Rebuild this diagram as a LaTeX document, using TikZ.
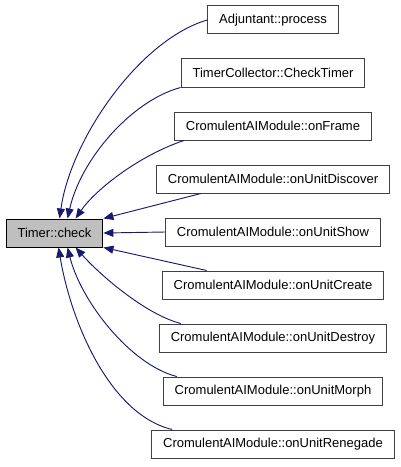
\documentclass[tikz,border=0pt]{standalone}
\usepackage{fontspec}
\setmainfont{Liberation Sans}
\usetikzlibrary{arrows.meta,positioning,calc}
\definecolor{edgeblue}{HTML}{191970}
\definecolor{boxgray}{HTML}{BFBFBF}

\begin{document}
\begin{tikzpicture}[x=0.75pt,y=-0.75pt,font=\fontsize{9.75}{11}\selectfont,
  >={Triangle[length=7.5pt,width=6pt]},node distance=18pt,
  fn/.style={draw=black!75,line width=0.75pt,rectangle,inner xsep=8.6pt,inner ysep=0pt,minimum height=21pt},
  current/.style={fn,draw=black,fill=boxgray},
  call/.style={->,draw=edgeblue,line width=0.7pt}]
\useasboundingbox (0,0) rectangle (400,467);
% callers, one column
\node[fn] (adjProcess) at (273,20) {Adjuntant::process};
\node[fn,below=of adjProcess] (checkTimer) {TimerCollector::CheckTimer};
\node[fn,below=of checkTimer] (onFrame) {CromulentAIModule::onFrame};
\node[fn,below=of onFrame] (onDiscover) {CromulentAIModule::onUnitDiscover};
\node[fn,below=of onDiscover] (onShow) {CromulentAIModule::onUnitShow};
\node[fn,below=of onShow] (onCreate) {CromulentAIModule::onUnitCreate};
\node[fn,below=of onCreate] (onDestroy) {CromulentAIModule::onUnitDestroy};
\node[fn,below=of onDestroy] (onMorph) {CromulentAIModule::onUnitMorph};
\node[fn,below=of onMorph] (onRenegade) {CromulentAIModule::onUnitRenegade};
% callee
\node[current] (timerCheck) at (54.5,233) {Timer::check};

\draw[call] (adjProcess.west) .. controls +(-68,20) and +(11,-79) .. ($(timerCheck.north west)+(54,0)$);
\draw[call] (checkTimer.south west) .. controls +(-49,13) and +(13,-59) .. ($(timerCheck.north west)+(62,0)$);
\draw[call] ($(onFrame.south west)+(10,0)$) .. controls +(-45,15) and +(20,-29) .. ($(timerCheck.north west)+(70,0)$);
\draw[call] ($(onDiscover.south west)+(45,0)$) -- (timerCheck.north east);
\draw[call] (onShow.west) -- (timerCheck.east);
\draw[call] ($(onCreate.north west)+(45,0)$) -- (timerCheck.south east);
\draw[call] ($(onDestroy.north west)+(22,0)$) .. controls +(-35,-9) and +(25,28) .. ($(timerCheck.south west)+(70,0)$);
\draw[call] ($(onMorph.north west)+(14,0)$) .. controls +(-47,-12) and +(13,53) .. ($(timerCheck.south west)+(62,0)$);
\draw[call] ($(onRenegade.north west)+(21,0)$) .. controls +(-63,-15) and +(12,73) .. ($(timerCheck.south west)+(53,0)$);
\end{tikzpicture}
\end{document}
